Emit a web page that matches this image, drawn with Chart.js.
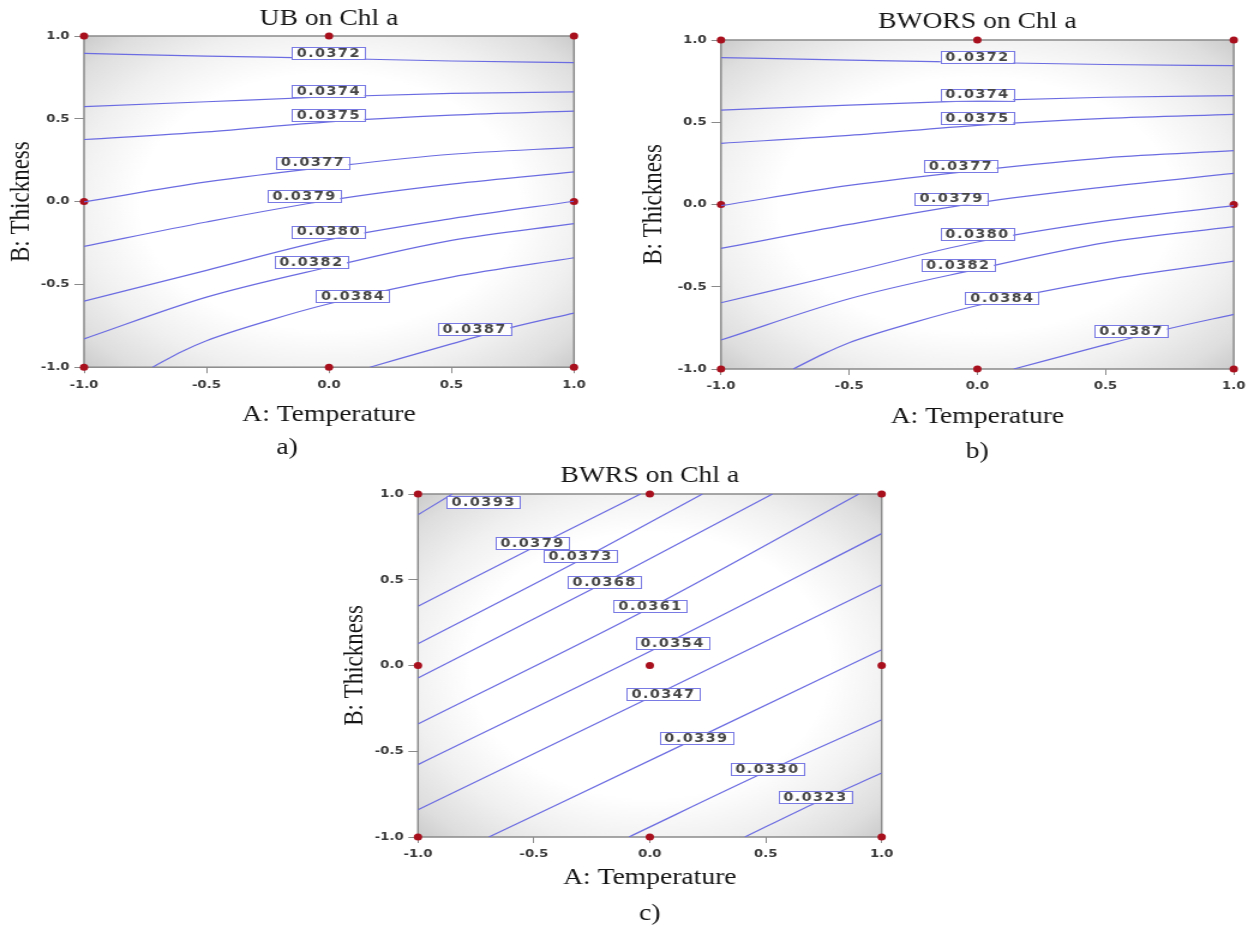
<!DOCTYPE html>
<html>
<head>
<meta charset="utf-8">
<title>Chl a contour plots</title>
<script src="https://cdn.jsdelivr.net/npm/chart.js@4.4.1/dist/chart.umd.min.js"></script>
<style>
  html, body { margin: 0; padding: 0; background: #ffffff; width: 1259px; height: 926px; overflow: hidden; }
  .panel { position: absolute; transform: scaleX(1.2); transform-origin: 0 0; }
  .panel canvas { display: block; }
</style>
</head>
<body>
<div class="panel" style="left:0px;top:0px"><canvas id="chartUB" width="500" height="462"></canvas></div>
<div class="panel" style="left:630px;top:0px"><canvas id="chartBWORS" width="524" height="466"></canvas></div>
<div class="panel" style="left:330px;top:460px"><canvas id="chartBWRS" width="483" height="468"></canvas></div>
<script>
// ---- shared axis ticks and design points (coded factor levels) ----
const axisTicks = [-1, -0.5, 0, 0.5, 1];
const designPoints = [[-1, 1], [0, 1], [1, 1], [-1, 0], [1, 0], [-1, -1], [0, -1], [1, -1]];
const designPointsCentre = [[-1, 1], [0, 1], [1, 1], [-1, 0], [0, 0], [1, 0], [-1, -1], [0, -1], [1, -1]];

// ---- UB on Chl a ----
const ubLevels = ['0.0372', '0.0374', '0.0375', '0.0377', '0.0379', '0.0380', '0.0382', '0.0384', '0.0387'];
const ubContours = [
  [[-1, 0.895], [-0.5, 0.879], [0, 0.865], [0.5, 0.849], [1, 0.839]],
  [[-1, 0.573], [-0.5, 0.603], [0, 0.633], [0.5, 0.653], [1, 0.663]],
  [[-1, 0.375], [-0.5, 0.421], [0, 0.482], [0.5, 0.522], [1, 0.546]],
  [[-1, -0.002], [-0.5, 0.119], [0, 0.21], [0.5, 0.286], [1, 0.327]],
  [[-1, -0.27], [-0.5, -0.123], [0, 0.008], [0.5, 0.105], [1, 0.179]],
  [[-1, -0.601], [-0.5, -0.415], [0, -0.23], [0.5, -0.103], [1, 0.002]],
  [[-1, -0.829], [-0.5, -0.577], [0, -0.395], [0.5, -0.234], [1, -0.133]],
  [[-0.72, -1], [-0.6, -0.905], [-0.5, -0.84], [-0.25, -0.72], [0, -0.617], [0.5, -0.456], [1, -0.339]],
  [[0.167, -1], [0.5, -0.859], [0.75, -0.758], [1, -0.673]]
];
const ubLabelX = [-0.004, -0.004, -0.004, -0.068, -0.103, -0.004, -0.075, 0.096, 0.592];
const ubLabelY = [0.895, 0.667, 0.52, 0.234, 0.032, -0.181, -0.367, -0.573, -0.77];

// ---- BWORS on Chl a ----
const bworsLevels = ['0.0372', '0.0374', '0.0375', '0.0377', '0.0379', '0.0380', '0.0382', '0.0384', '0.0387'];
const bworsContours = [
  [[-1, 0.893], [-0.5, 0.878], [0, 0.864], [0.5, 0.851], [1, 0.844]],
  [[-1, 0.574], [-0.5, 0.604], [0, 0.632], [0.5, 0.652], [1, 0.662]],
  [[-1, 0.372], [-0.5, 0.42], [0, 0.481], [0.5, 0.523], [1, 0.548]],
  [[-1, -0.007], [-0.5, 0.116], [0, 0.208], [0.5, 0.284], [1, 0.327]],
  [[-1, -0.267], [-0.5, -0.121], [0, 0.01], [0.5, 0.107], [1, 0.189]],
  [[-1, -0.597], [-0.5, -0.412], [0, -0.228], [0.5, -0.1], [1, -0.007]],
  [[-1, -0.824], [-0.5, -0.573], [0, -0.393], [0.5, -0.232], [1, -0.135]],
  [[-0.718, -1], [-0.6, -0.908], [-0.5, -0.84], [-0.25, -0.718], [0, -0.614], [0.5, -0.458], [1, -0.344]],
  [[0.142, -1], [0.5, -0.852], [0.75, -0.754], [1, -0.668]]
];
const bworsLabelX = [-0.002, -0.002, -0.002, -0.067, -0.103, -0.002, -0.077, 0.095, 0.598];
const bworsLabelY = [0.897, 0.668, 0.524, 0.232, 0.035, -0.181, -0.37, -0.568, -0.771];

// ---- BWRS on Chl a ----
const bwrsLevels = ['0.0393', '0.0379', '0.0373', '0.0368', '0.0361', '0.0354', '0.0347', '0.0339', '0.0330', '0.0323'];
const bwrsContours = [
  [[-1, 0.879], [-0.852, 1]],
  [[-1, 0.345], [-0.5, 0.69], [-0.04, 1]],
  [[-1, 0.127], [-0.3, 0.615], [0.227, 1]],
  [[-1, -0.073], [-0.2, 0.48], [0.529, 1]],
  [[-1, -0.341], [0, 0.335], [0.902, 1]],
  [[-1, -0.578], [0.08, 0.135], [1, 0.769]],
  [[-1, -0.841], [0.05, -0.155], [1, 0.471]],
  [[-0.694, -1], [0.2, -0.425], [1, 0.092]],
  [[-0.09, -1], [0.5, -0.62], [1, -0.316]],
  [[0.41, -1], [0.7, -0.81], [1, -0.627]]
];
const bwrsLabelX = [-0.72, -0.509, -0.302, -0.198, 0.0, 0.095, 0.056, 0.198, 0.504, 0.711];
const bwrsLabelY = [0.953, 0.714, 0.638, 0.487, 0.347, 0.131, -0.166, -0.423, -0.603, -0.767];

// ---- styling ----
const CONTOUR_BLUE = 'rgb(108,108,226)';
const BOX_BLUE = 'rgb(122,122,228)';
const POINT_RED = '#a8101e';
const FRAME_GREY = '#8a8a8a';
const SERIF = 'Liberation Serif';
const TICK_FONT = { family: 'DejaVu Sans', size: 11, weight: 'bold' };

// shaded plot background and the frame around the plot
const plotBackdrop = {
  id: 'plotBackdrop',
  beforeDraw(chart) {
    const { ctx, chartArea: a } = chart;
    const cx = (a.left + a.right) / 2, cy = (a.top + a.bottom) / 2;
    ctx.save();
    ctx.beginPath();
    ctx.rect(a.left, a.top, a.width, a.height);
    ctx.clip();
    ctx.translate(cx, cy);
    ctx.scale(a.width / 2 * Math.SQRT2, a.height / 2 * Math.SQRT2);
    const g = ctx.createRadialGradient(0, 0, 0, 0, 0, 1);
    g.addColorStop(0, '#ffffff');
    g.addColorStop(0.55, '#ffffff');
    g.addColorStop(0.74, '#f0f0f0');
    g.addColorStop(0.9, '#dedede');
    g.addColorStop(1, '#cbcbcb');
    ctx.fillStyle = g;
    ctx.fillRect(-1, -1, 2, 2);
    ctx.restore();
  },
  beforeDatasetsDraw(chart) {
    const { ctx, chartArea: a } = chart;
    ctx.save();
    ctx.strokeStyle = FRAME_GREY;
    ctx.lineWidth = 1.5;
    ctx.strokeRect(a.left, a.top, a.width, a.height);
    ctx.restore();
  }
};

// boxed contour level labels placed in data coordinates
const contourLabels = {
  id: 'contourLabels',
  afterDatasetsDraw(chart, args, opts) {
    const { ctx, scales: { x, y } } = chart;
    ctx.save();
    ctx.font = 'bold 12px "DejaVu Sans"';
    ctx.letterSpacing = '1.2px';
    ctx.textAlign = 'center';
    ctx.textBaseline = 'middle';
    opts.texts.forEach((t, i) => {
      const px = x.getPixelForValue(opts.xs[i]);
      const py = y.getPixelForValue(opts.ys[i]);
      const w = ctx.measureText(t).width + 7;
      const h = 12;
      ctx.fillStyle = '#ffffff';
      ctx.fillRect(px - w / 2, py - h / 2, w, h);
      ctx.strokeStyle = BOX_BLUE;
      ctx.lineWidth = 1;
      ctx.strokeRect(Math.round(px - w / 2) + 0.5, Math.round(py - h / 2) + 0.5, Math.round(w), h);
      ctx.fillStyle = '#454545';
      ctx.fillText(t, px + 0.6, py + 0.5);
    });
    ctx.restore();
  }
};

function buildPanel(canvasId, p) {
  const datasets = p.contours.map((pts, i) => ({
    label: p.levels[i],
    data: pts.map(v => ({ x: v[0], y: v[1] })),
    borderColor: CONTOUR_BLUE,
    borderWidth: 1.2,
    pointRadius: 0,
    pointHoverRadius: 0,
    cubicInterpolationMode: 'monotone',
    fill: false
  }));
  datasets.push({
    label: 'Design points',
    data: p.design.map(v => ({ x: v[0], y: v[1] })),
    showLine: false,
    pointRadius: 3.5,
    pointBackgroundColor: POINT_RED,
    pointBorderColor: POINT_RED,
    pointBorderWidth: 0,
    clip: false
  });

  const axisTitleFont = { family: SERIF, size: 23, weight: 'normal' };
  return new Chart(document.getElementById(canvasId), {
    type: 'line',
    data: { datasets },
    options: {
      responsive: false,
      animation: false,
      events: [],
      layout: { padding: { left: 0, right: p.padRight, top: 0, bottom: 0 } },
      plugins: {
        legend: { display: false },
        tooltip: { enabled: false },
        title: {
          display: true, text: p.title, fullSize: false, color: '#151515',
          font: { family: SERIF, size: 23, weight: 'normal' },
          padding: { top: p.titleTop, bottom: p.titleBottom }
        },
        subtitle: {
          display: true, position: 'bottom', text: p.tag, fullSize: p.tagFull, color: '#151515',
          font: { family: SERIF, size: 23, weight: 'normal' },
          padding: { top: p.tagTop, bottom: p.tagBottom }
        },
        contourLabels: { texts: p.levels, xs: p.labelX, ys: p.labelY }
      },
      scales: {
        x: {
          type: 'linear', position: 'bottom', min: -1, max: 1,
          afterBuildTicks: s => { s.ticks = axisTicks.map(v => ({ value: v })); },
          ticks: { callback: v => Number(v).toFixed(1), font: TICK_FONT, color: '#383838', padding: 5, maxRotation: 0, autoSkip: false },
          grid: { drawOnChartArea: false, drawTicks: true, tickLength: 6, color: FRAME_GREY, lineWidth: 1 },
          border: { display: false },
          title: { display: true, text: 'A: Temperature', color: '#151515', font: axisTitleFont, padding: { top: 0, bottom: 2 } },
          afterFit: s => { s.height = p.xAxisH; }
        },
        y: {
          type: 'linear', position: 'left', min: -1, max: 1,
          afterBuildTicks: s => { s.ticks = axisTicks.map(v => ({ value: v })); },
          ticks: { callback: v => Number(v).toFixed(1), font: TICK_FONT, color: '#383838', padding: 4, autoSkip: false },
          grid: { drawOnChartArea: false, drawTicks: true, tickLength: 8, color: FRAME_GREY, lineWidth: 1 },
          border: { display: false },
          title: { display: true, text: 'B: Thickness', color: '#151515', font: axisTitleFont, padding: { top: p.yTitlePad, bottom: 0 } },
          afterFit: s => { s.width = p.yAxisW; }
        }
      }
    },
    plugins: [plotBackdrop, contourLabels]
  });
}

buildPanel('chartUB', {
  title: 'UB on Chl a', tag: 'a)', tagFull: true,
  levels: ubLevels, contours: ubContours, labelX: ubLabelX, labelY: ubLabelY, design: designPoints,
  padRight: 21.7, yAxisW: 70, xAxisH: 64, yTitlePad: 4,
  titleTop: 5, titleBottom: 3.4, tagTop: 3.2, tagBottom: 0
});

buildPanel('chartBWORS', {
  title: 'BWORS on Chl a', tag: 'b)', tagFull: false,
  levels: bworsLevels, contours: bworsContours, labelX: bworsLabelX, labelY: bworsLabelY, design: designPoints,
  padRight: 20.9, yAxisW: 75.8, xAxisH: 64, yTitlePad: 6.2,
  titleTop: 8.2, titleBottom: 4.2, tagTop: 4.9, tagBottom: 0.5
});

buildPanel('chartBWRS', {
  title: 'BWRS on Chl a', tag: 'c)', tagFull: false,
  levels: bwrsLevels, contours: bwrsContours, labelX: bwrsLabelX, labelY: bwrsLabelY, design: designPointsCentre,
  padRight: 23.3, yAxisW: 73.3, xAxisH: 57, yTitlePad: 7,
  titleTop: 2.2, titleBottom: 4.2, tagTop: 6.4, tagBottom: 0
});
</script>
</body>
</html>
